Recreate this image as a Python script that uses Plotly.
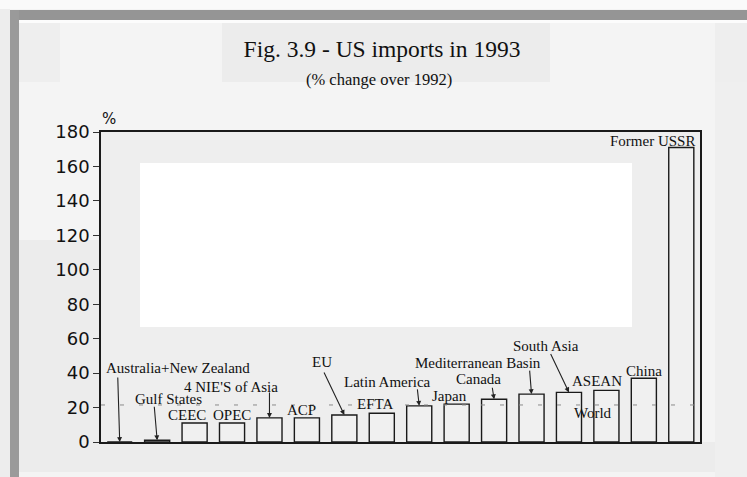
import plotly.graph_objects as go

categories = ["Australia+New Zealand", "Gulf States", "CEEC", "OPEC", "4 NIE'S of Asia", "ACP",
              "EU", "EFTA", "Latin America", "Japan", "Canada", "Mediterranean Basin",
              "South Asia", "ASEAN", "China", "Former USSR"]
values = [0, 1, 11, 11, 14, 14, 15.7, 16.7, 21, 22, 24.8, 27.8, 28.8, 30, 37, 171]
world_value = 21.5
y_ticks = [0, 20, 40, 60, 80, 100, 120, 140, 160, 180]

# label offsets (pixels) relative to each bar top, and arrow tails (pixels) where used
label_shift = {
    "Australia+New Zealand": (58, 74), "Gulf States": (11, 41), "CEEC": (-8, 8), "OPEC": (0, 8),
    "4 NIE'S of Asia": (-38, 31), "ACP": (-5, 8), "EU": (-22, 53), "EFTA": (-7, 9),
    "Latin America": (-32, 24), "Japan": (-7, 8), "Canada": (-16, 20),
    "Mediterranean Basin": (-54, 31), "South Asia": (-23, 46), "ASEAN": (-9, 9),
    "China": (0, 7), "Former USSR": (-29, 7),
}
arrow_tail = {
    "Australia+New Zealand": (-2, -66), "Gulf States": (-3, -35), "4 NIE'S of Asia": (0, -27),
    "EU": (-21, -44), "Latin America": (-2, -18), "Canada": (-2, -13),
    "Mediterranean Basin": (-2, -25), "South Asia": (-19, -40),
}

W, H = 747, 477
L, R, T, B = 101, 700, 132, 442
LABEL_FONT = dict(family="Liberation Serif", size=15, color="#111")


def px(x0, y0, x1, y1, color):
    return dict(type="rect", xref="paper", yref="paper", layer="below",
                x0=(x0 - L) / (R - L), x1=(x1 - L) / (R - L),
                y0=(B - y0) / (B - T), y1=(B - y1) / (B - T),
                fillcolor=color, line=dict(width=0))


fig = go.Figure()
fig.add_trace(go.Bar(
    x=categories, y=values,
    marker=dict(color="#f0f0f0", line=dict(color="#1a1a1a", width=1.4)),
    hoverinfo="x+y",
))

shapes = [
    px(0, 0, W, 9, "#fafafa"),
    px(0, 9, 10, H, "#ededed"),
    px(10, 10, W, 20, "#959595"),
    px(10, 10, 19, H, "#9a9a9a"),
    px(19, 20, W, 23, "#fcfcfc"),
    px(19, 23, 60, 82, "#eeeeee"),
    px(222, 23, 550, 82, "#ececec"),
    px(715, 23, W, 82, "#eeeeee"),
    px(19, 240, 100, 472, "#ececec"),
    px(19, 442, 715, 472, "#ececec"),
    px(715, 82, W, H, "#efefef"),
    px(140, 163, 632, 327, "#ffffff"),
    dict(type="line", xref="paper", yref="y", x0=0, x1=1, y0=world_value, y1=world_value,
         layer="above", line=dict(color="#8a8a8a", width=1, dash="4px,15px")),
]

annotations = []
for cat, val in zip(categories, values):
    dx, dy = label_shift[cat]
    annotations.append(dict(x=cat, y=val, xref="x", yref="y", text=cat, showarrow=False,
                            xshift=dx, yshift=dy, xanchor="center", yanchor="middle",
                            font=LABEL_FONT))
    if cat in arrow_tail:
        ax, ay = arrow_tail[cat]
        annotations.append(dict(x=cat, y=val, xref="x", yref="y", text="", showarrow=True,
                                ax=ax, ay=ay, arrowhead=2, arrowsize=0.9, arrowwidth=1.1,
                                arrowcolor="#222", standoff=0))

annotations.append(dict(x=categories[13], y=world_value, xref="x", yref="y", text="World",
                        showarrow=False, xshift=-13, yshift=-8, xanchor="center", yanchor="middle",
                        font=LABEL_FONT))
annotations.append(dict(x=(378.5 - L) / (R - L), y=(B - 79) / (B - T), xref="paper", yref="paper",
                        text="(% change over 1992)", showarrow=False, xanchor="center", yanchor="middle",
                        font=dict(family="Liberation Serif", size=16.5, color="#111")))
annotations.append(dict(x=(109 - L) / (R - L), y=(B - 119) / (B - T), xref="paper", yref="paper",
                        text="%", showarrow=False, xanchor="center", yanchor="middle",
                        font=dict(family="DejaVu Sans", size=15, color="#111")))

fig.update_layout(
    width=W, height=H,
    margin=dict(l=L, r=W - R, t=T, b=H - B),
    paper_bgcolor="#f4f4f4", plot_bgcolor="#eeeeee",
    title=dict(text="Fig. 3.9 - US imports in 1993", x=382 / W, xanchor="center",
               y=1 - 49 / H, yanchor="middle", yref="container",
               font=dict(family="Liberation Serif", size=23.5, color="#111")),
    bargap=0.33, showlegend=False,
    shapes=shapes, annotations=annotations,
    xaxis=dict(range=[-0.5, 15.5], showticklabels=False, ticks="", showgrid=False,
               showline=True, linecolor="#1a1a1a", linewidth=1.5, mirror=True, zeroline=False),
    yaxis=dict(range=[0, 180], tickvals=y_ticks, ticks="outside", ticklen=6, tickwidth=1.2,
               tickcolor="#333", showgrid=False, showline=True, linecolor="#1a1a1a",
               linewidth=1.5, mirror=True, zeroline=False,
               tickfont=dict(family="DejaVu Sans", size=18, color="#111")),
)

fig.write_html("out.html", config={"displayModeBar": False},
               post_script="document.body.style.margin='0px';document.body.style.overflow='hidden';")
